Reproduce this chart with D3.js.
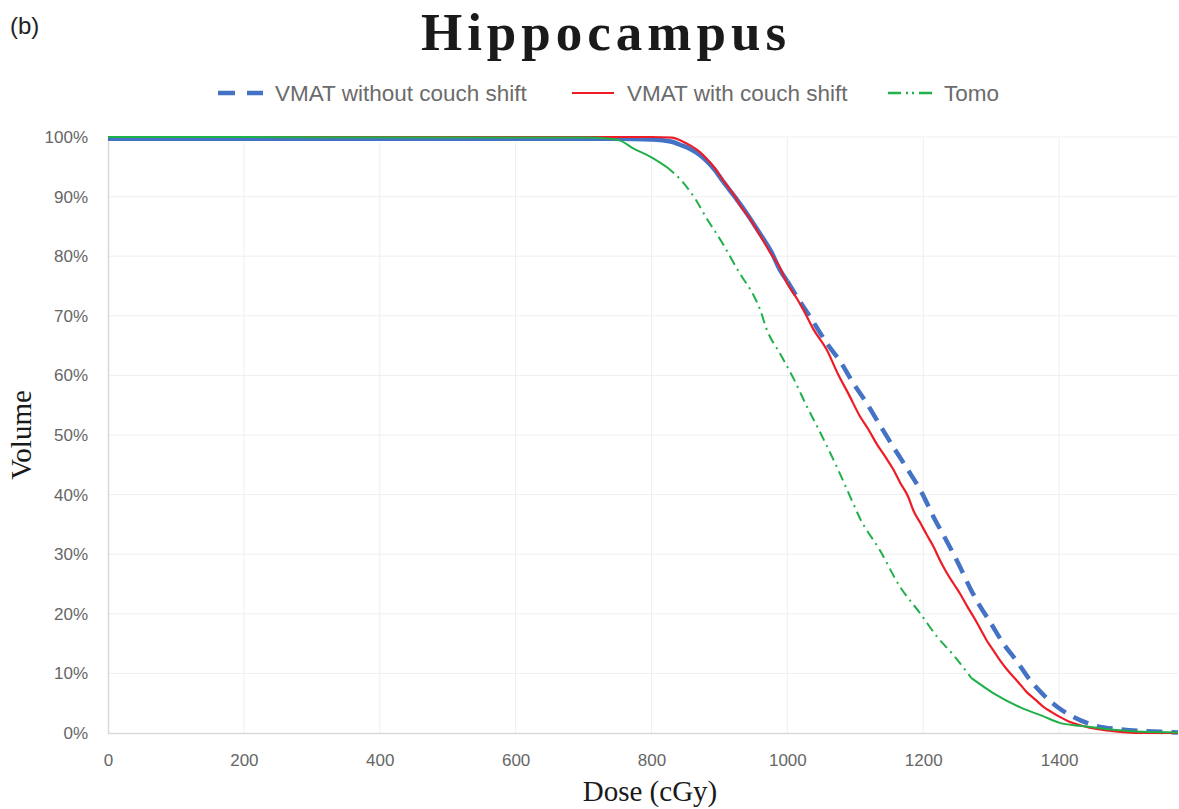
<!DOCTYPE html>
<html><head><meta charset="utf-8">
<script src="https://cdn.jsdelivr.net/npm/d3@7"></script>
<style>body{margin:0;background:#fff}svg{display:block}</style>
</head><body>
<svg id="c" width="1179" height="809"></svg>
<script>
// ---- data (dose cGy, volume %) ----
const xTicks = [0, 200, 400, 600, 800, 1000, 1200, 1400];
const yTicks = [0, 10, 20, 30, 40, 50, 60, 70, 80, 90, 100];
const seriesNames = ["VMAT without couch shift", "VMAT with couch shift", "Tomo"];

const vmatNoShift = [
 [0,99.7],[750,99.7],[800,99.6],[830,99.2],[842,98.7],[857,98.0],[871,97.0],[881,96.0],[893,94.5],
 [905,92.6],[923,89.9],[940,87.2],[955,84.6],[977,80.6],[989,77.7],[1000,75.8],[1014,73.2],
 [1038,69.0],[1058,65.4],[1078,62.3],[1097,58.7],[1117,55.3],[1136,51.7],[1156,48.0],[1176,44.4],
 [1198,40.3],[1215,36.3],[1235,32.1],[1254,27.9],[1269,24.3],[1284,21.2],[1298,18.7],[1318,15.0],
 [1338,12.0],[1357,8.9],[1377,6.4],[1397,4.4],[1421,2.7],[1451,1.3],[1490,0.6],[1549,0.2],[1575,0.1]
];
const vmatShift = [
 [0,100],[800,100],[830,99.9],[845,99.3],[857,98.6],[870,97.6],[881,96.4],[893,94.8],[905,92.8],
 [915,91.3],[923,90.0],[930,88.6],[943,86.6],[955,84.4],[966,82.3],[977,80.2],[988,78.3],[999,75.6],
 [1014,72.9],[1024,70.9],[1038,67.8],[1058,64.3],[1075,60.1],[1090,56.9],[1107,53.1],[1120,50.8],
 [1131,48.6],[1145,46.2],[1156,44.2],[1166,42.0],[1178,39.6],[1186,37.2],[1196,35.2],[1205,33.3],
 [1215,31.3],[1225,28.9],[1235,26.8],[1245,25.0],[1254,23.4],[1265,21.2],[1274,19.5],[1284,17.5],
 [1293,15.6],[1303,13.9],[1313,12.2],[1323,10.7],[1333,9.4],[1343,8.1],[1352,6.9],[1365,5.6],
 [1377,4.4],[1389,3.5],[1401,2.7],[1415,1.9],[1431,1.3],[1445,0.9],[1460,0.6],[1480,0.3],
 [1500,0.1],[1520,0.0],[1575,0.0]
];
const tomo = [
 [0,100],[700,99.9],[740,99.7],[754,99.4],[773,98.1],[798,96.7],[822,95.0],[847,92.3],[865,89.5],
 [881,86.4],[906,81.9],[930,77.1],[950,73.5],[960,71.0],[969,67.9],[990,63.5],[1009,59.5],
 [1030,54.5],[1048,50.5],[1075,44.1],[1095,39.0],[1107,36.0],[1136,30.7],[1166,24.5],[1196,20.0],
 [1220,16.2],[1245,13.0],[1271,9.2],[1303,6.7],[1343,4.3],[1377,2.8],[1401,1.7],[1431,1.2],
 [1475,0.6],[1524,0.2],[1575,0.1]
];

// ---- layout ----
const svg = d3.select("#c");
const L = 108, R = 1178, T = 137, B = 733;
const x = d3.scaleLinear().domain([0, 1575]).range([L, R]);
const y = d3.scaleLinear().domain([0, 100]).range([B, T]);
const sans = "'Liberation Sans', Arial, sans-serif";
const serif = "'Liberation Serif', 'Times New Roman', serif";

// gridlines
svg.append("g").selectAll("line").data(yTicks.filter(d => d > 0)).join("line")
  .attr("x1", L).attr("x2", R).attr("y1", d => y(d)).attr("y2", d => y(d))
  .attr("stroke", "#efefef").attr("stroke-width", 1);
svg.append("g").selectAll("line").data(xTicks.filter(d => d > 0)).join("line")
  .attr("x1", d => x(d)).attr("x2", d => x(d)).attr("y1", T).attr("y2", B)
  .attr("stroke", "#efefef").attr("stroke-width", 1);

// axes
const xAxis = svg.append("g").attr("transform", `translate(0,${B})`)
  .call(d3.axisBottom(x).tickValues(xTicks).tickSize(0).tickPadding(21).tickFormat(d3.format("d")));
const yAxis = svg.append("g").attr("transform", `translate(${L},0)`)
  .call(d3.axisLeft(y).tickValues(yTicks).tickSize(0).tickPadding(20).tickFormat(d => d + "%"));
[xAxis, yAxis].forEach(g => {
  g.select(".domain").attr("stroke", "#d9d9d9").attr("stroke-width", 1.5);
  g.selectAll("text").attr("fill", "#666").attr("font-family", sans).attr("font-size", 17);
});
xAxis.select(".domain").attr("d", `M${L},0.5H${R}`);

// lines
const line = d3.line().x(d => x(d[0])).y(d => y(d[1])).curve(d3.curveMonotoneX);
function seg(data, lo, hi) { return data.filter(d => d[0] >= lo && d[0] <= hi); }

const blue = "#4472C4", red = "#EE1C25", green = "#1FB04A";
const plot = svg.append("g");
plot.append("path").datum(seg(vmatNoShift, 0, 1000)).attr("d", line)
  .attr("fill", "none").attr("stroke", blue).attr("stroke-width", 4.5);
plot.append("path").datum(seg(vmatNoShift, 1000, 1575)).attr("d", line)
  .attr("fill", "none").attr("stroke", blue).attr("stroke-width", 4.5).attr("stroke-dasharray", "16,9");
plot.append("path").datum(vmatShift).attr("d", line)
  .attr("fill", "none").attr("stroke", red).attr("stroke-width", 2.2);
plot.append("path").datum(seg(tomo, 0, 822)).attr("d", line)
  .attr("fill", "none").attr("stroke", green).attr("stroke-width", 2);
plot.append("path").datum(seg(tomo, 822, 1271)).attr("d", line)
  .attr("fill", "none").attr("stroke", green).attr("stroke-width", 2).attr("stroke-dasharray", "10,5,2,5");
plot.append("path").datum(seg(tomo, 1271, 1575)).attr("d", line)
  .attr("fill", "none").attr("stroke", green).attr("stroke-width", 2);

// title
svg.append("text").attr("x", 606).attr("y", 50).attr("text-anchor", "middle")
  .attr("font-family", serif).attr("font-weight", "bold")
  .attr("font-size", 53).attr("letter-spacing", 5).attr("fill", "#1a1a1a").text("Hippocampus");
svg.append("text").attr("x", 10).attr("y", 34)
  .attr("font-family", sans).attr("font-size", 24).attr("fill", "#222").text("(b)");

// legend
const legendItems = [
  {name: seriesNames[0], color: blue, w: 4.5, dash: "17,12", x0: 218, x1: 263, tx: 275},
  {name: seriesNames[1], color: red, w: 2, dash: null, x0: 572, x1: 614, tx: 627},
  {name: seriesNames[2], color: green, w: 2.5, dash: "13,5,2,4,2,5,13", x0: 888, x1: 940, tx: 944}
];
const lg = svg.append("g");
legendItems.forEach(it => {
  lg.append("line").attr("x1", it.x0).attr("x2", it.x1).attr("y1", 93).attr("y2", 93)
    .attr("stroke", it.color).attr("stroke-width", it.w).attr("stroke-dasharray", it.dash);
  lg.append("text").attr("x", it.tx).attr("y", 101).attr("fill", "#6b6b6b")
    .attr("font-family", sans).attr("font-size", 22.5).text(it.name);
});

// axis titles
svg.append("text").attr("transform", `translate(31,435) rotate(-90)`).attr("text-anchor", "middle")
  .attr("font-family", serif).attr("font-size", 29).attr("fill", "#1a1a1a").text("Volume");
svg.append("text").attr("x", 650).attr("y", 801).attr("text-anchor", "middle")
  .attr("font-family", serif).attr("font-size", 29).attr("fill", "#1a1a1a").text("Dose (cGy)");
</script>
</body></html>
